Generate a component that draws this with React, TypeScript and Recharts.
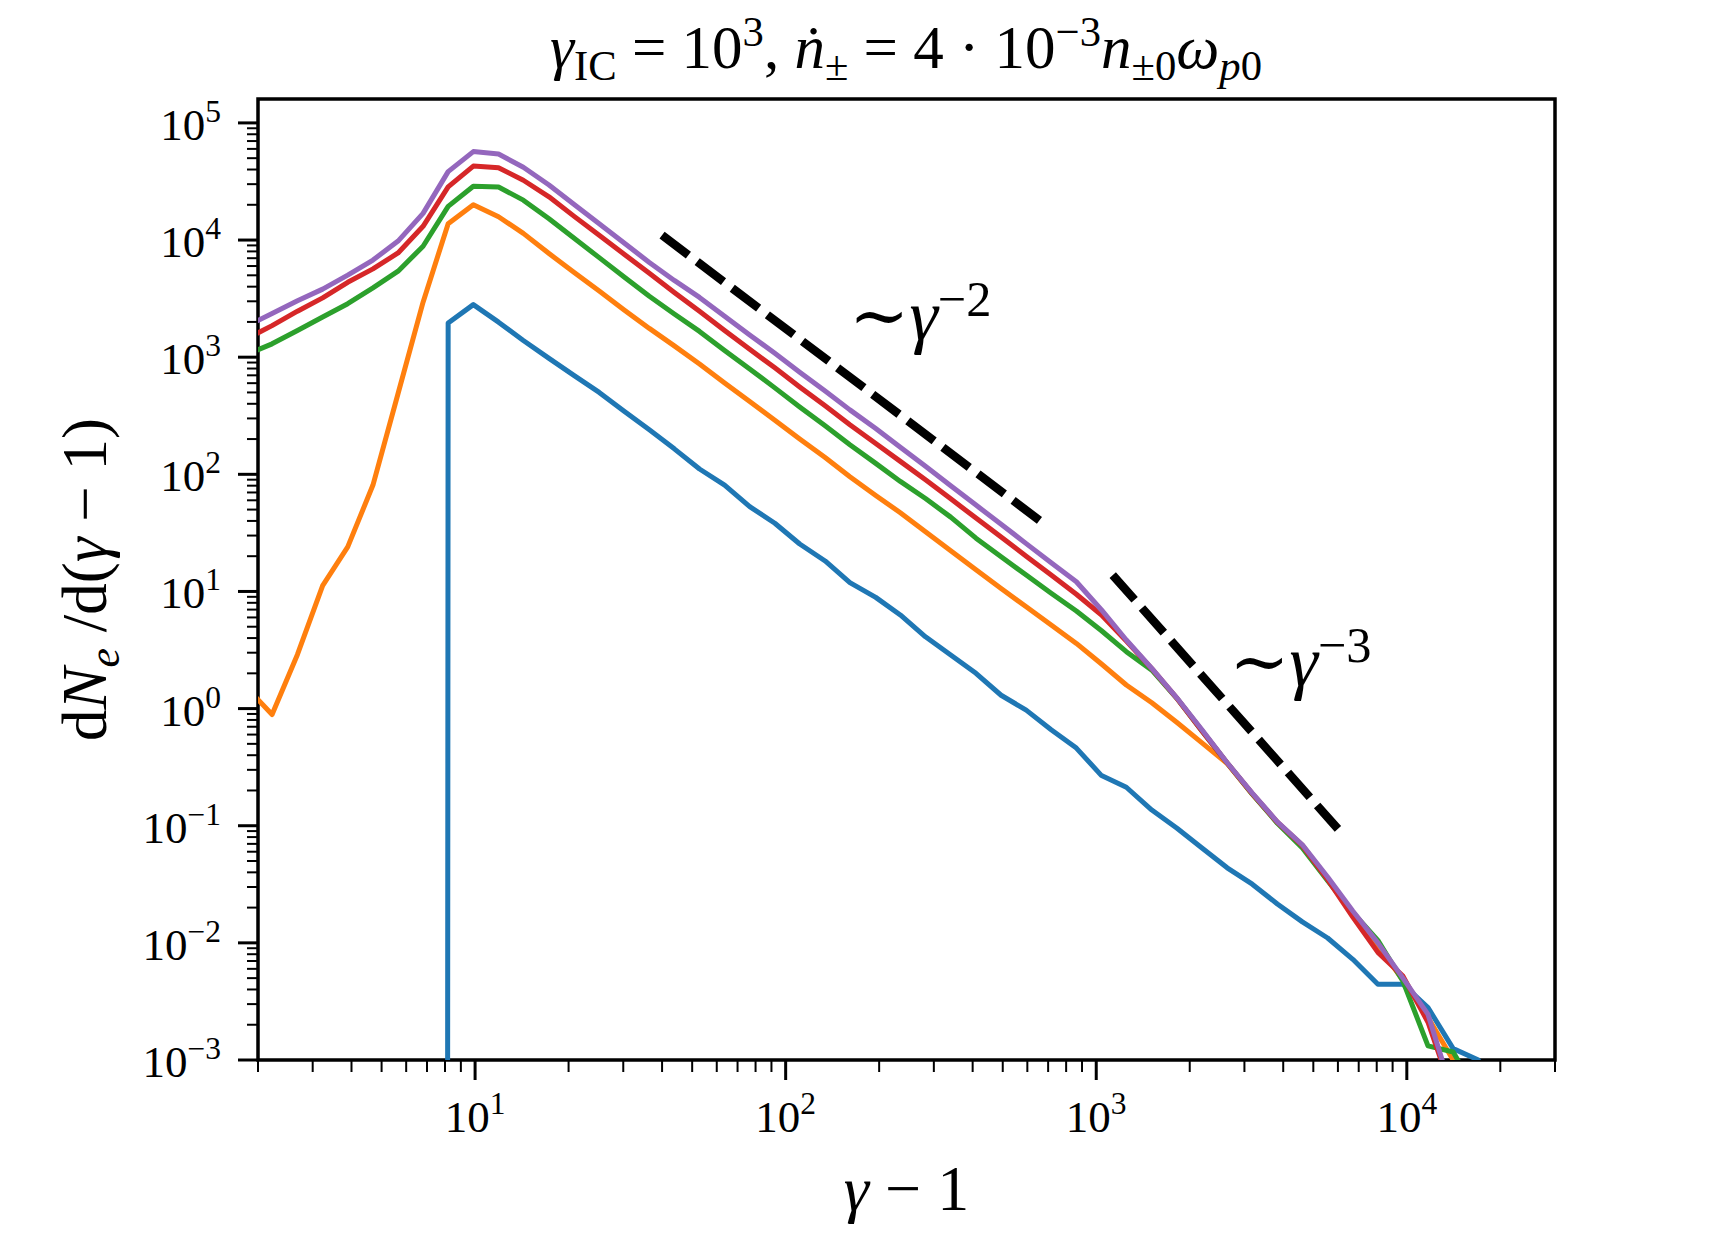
import React from 'react';
import { LineChart, Line, XAxis, YAxis, ReferenceArea, ReferenceDot } from 'recharts';

const FONT = '"Liberation Serif", "DejaVu Serif", serif';

const W = 1728;
const H = 1248;

const X_DOMAIN: [number, number] = [2, 30000];
const Y_DOMAIN: [number, number] = [1e-3, 1.6e5];

// gamma - 1 bin centres (log spaced)
const gammaBins = [
  1.85, 2.22, 2.68, 3.23, 3.89, 4.69, 5.65, 6.8, 8.19, 9.87, 11.9, 14.3, 17.3, 20.8, 25.1, 30.2, 36.4,
  43.8, 52.8, 63.6, 76.6, 92.3, 111, 134, 161, 195, 234, 282, 340, 410, 494, 595, 716, 863, 1040, 1250,
  1510, 1820, 2190, 2640, 3180, 3830, 4610, 5560, 6700, 8070, 9720, 11700, 14100, 17000, 20500,
];

// dN_e/d(gamma-1) for each snapshot, 0 = empty bin
const blueCounts = [
  0, 0, 0, 0, 0, 0, 0, 0, 1960, 2810, 1990, 1390, 977, 700, 500, 345, 240, 165, 111, 81, 53, 38.2, 25.4,
  18.2, 11.9, 8.9, 6.3, 4.1, 2.87, 2.0, 1.3, 0.97, 0.66, 0.46, 0.268, 0.213, 0.136, 0.095, 0.0645, 0.0437,
  0.0317, 0.0215, 0.0151, 0.011, 0.00724, 0.00443, 0.00443, 0.0028, 0.00125, 0.001, 0,
];
const orangeCounts = [
  1.48, 0.89, 2.9, 11.2, 24, 81, 490, 2950, 13800, 20000, 15800, 11400, 7670, 5310, 3680, 2530, 1760,
  1250, 875, 603, 418, 290, 200, 139, 95.5, 66, 47, 32.4, 22.3, 15.3, 10.6, 7.4, 5.17, 3.6, 2.4, 1.59,
  1.12, 0.76, 0.51, 0.34, 0.186, 0.107, 0.068, 0.035, 0.018, 0.0095, 0.0048, 0.0023, 0.001, 0, 0,
];
const greenCounts = [
  1060, 1300, 1690, 2200, 2860, 3900, 5420, 8850, 19400, 28800, 28400, 21900, 15200, 10400, 7080, 4840,
  3310, 2340, 1660, 1140, 793, 547, 376, 260, 179, 124, 87, 62.1, 43.1, 28.5, 19.8, 13.8, 9.66, 6.81,
  4.62, 3.06, 2.13, 1.22, 0.645, 0.343, 0.186, 0.105, 0.0646, 0.0339, 0.0182, 0.0105, 0.0047, 0.00132,
  0.00117, 0.0005, 0,
];
const redCounts = [
  1450, 1860, 2470, 3210, 4360, 5670, 7760, 13100, 28400, 42800, 41400, 32400, 23400, 16000, 11000, 7570,
  5200, 3570, 2470, 1690, 1170, 811, 557, 385, 265, 183, 129, 89.7, 61.8, 42.3, 29.1, 20.0, 13.8, 9.46,
  6.3, 3.78, 2.19, 1.22, 0.645, 0.343, 0.188, 0.107, 0.0676, 0.0347, 0.0166, 0.0083, 0.0052, 0.0021,
  0.0005, 0, 0,
];
const purpleCounts = [
  1860, 2360, 3030, 3810, 5020, 6750, 9800, 16900, 38400, 56900, 54300, 41800, 29500, 20200, 13800, 9420,
  6440, 4520, 3240, 2240, 1550, 1080, 743, 514, 355, 246, 170, 117, 79.8, 54.6, 37.5, 25.6, 17.6, 12.1,
  6.95, 3.85, 2.2, 1.23, 0.66, 0.345, 0.19, 0.108, 0.0687, 0.0365, 0.0187, 0.01, 0.005, 0.00245, 0.0005,
  0, 0,
];

// power-law guides (end points)
const guideSlope2 = [
  { x: 40, y: 11000 },
  { x: 660, y: 40 },
];
const guideSlope3 = [
  { x: 1130, y: 13.8 },
  { x: 6000, y: 0.094 },
];

const xMajorTicks = [10, 100, 1000, 10000];
const yMajorTicks = [1e-3, 1e-2, 1e-1, 1, 10, 100, 1000, 1e4, 1e5];
const minorSteps = [2, 3, 4, 5, 6, 7, 8, 9];

const LOG_FLOOR = 1e-300; // empty bins get clipped like matplotlib does

function toPoints(counts: number[]) {
  return gammaBins.map((x, i) => ({ x, y: counts[i] > 0 ? counts[i] : LOG_FLOOR }));
}

function minorsIn(decades: number[], [lo, hi]: [number, number]) {
  return decades
    .flatMap((d) => minorSteps.map((m) => d * m))
    .filter((v) => v >= lo * 0.999 && v <= hi * 1.001);
}

const xTicks = [...xMajorTicks, ...minorsIn([1, 10, 100, 1000, 10000], X_DOMAIN)];
const yTicks = [...yMajorTicks, ...minorsIn(yMajorTicks, Y_DOMAIN)];

const series = [
  { key: 'blue', color: '#1f77b4', counts: blueCounts },
  { key: 'orange', color: '#ff7f0e', counts: orangeCounts },
  { key: 'green', color: '#2ca02c', counts: greenCounts },
  { key: 'red', color: '#d62728', counts: redCounts },
  { key: 'purple', color: '#9467bd', counts: purpleCounts },
];

function isMajor(v: number) {
  const l = Math.log10(v);
  return Math.abs(l - Math.round(l)) < 1e-6;
}

function expText(v: number) {
  const e = Math.round(Math.log10(v));
  return e < 0 ? `\u2212${-e}` : `${e}`;
}

type Seg = { t: string; k?: 'i' | 'sub' | 'subi' | 'sup' };

function mathTspans(segs: Seg[], size: number, supShift = 0.36, subShift = 0.2) {
  let level = 0;
  return segs.map((s, i) => {
    const small = s.k === 'sub' || s.k === 'subi' || s.k === 'sup';
    const target = s.k === 'sup' ? -supShift * size : s.k === 'sub' || s.k === 'subi' ? subShift * size : 0;
    const dy = target - level;
    level = target;
    return (
      <tspan
        key={i}
        dy={dy}
        fontSize={small ? size * 0.7 : size}
        fontStyle={s.k === 'i' || s.k === 'subi' ? 'italic' : 'normal'}
      >
        {s.t}
      </tspan>
    );
  });
}

const TICK_FONT = 45;

function XTick(props: any) {
  const { x, y, payload } = props;
  const major = isMajor(payload.value);
  return (
    <g>
      <line x1={x} x2={x} y1={y} y2={y + (major ? 20 : 12)} stroke="#000" strokeWidth={major ? 3 : 2} />
      {major && (
        <text x={x} y={y + 72} textAnchor="middle" fontFamily={FONT} fontSize={TICK_FONT} fill="#000">
          {mathTspans([{ t: '10' }, { t: expText(payload.value), k: 'sup' }], TICK_FONT, 0.4)}
        </text>
      )}
    </g>
  );
}

function YTick(props: any) {
  const { x, y, payload } = props;
  const major = isMajor(payload.value);
  return (
    <g>
      <line x1={x - (major ? 20 : 11)} x2={x} y1={y} y2={y} stroke="#000" strokeWidth={major ? 3 : 2} />
      {major && (
        <text x={x - 37} y={y + 17} textAnchor="end" fontFamily={FONT} fontSize={TICK_FONT} fill="#000">
          {mathTspans([{ t: '10' }, { t: expText(payload.value), k: 'sup' }], TICK_FONT, 0.4)}
        </text>
      )}
    </g>
  );
}

function XLabel(props: any) {
  const vb = props.viewBox || { x: 258, y: 1060, width: 1297 };
  return (
    <text x={vb.x + vb.width / 2} y={vb.y + 150} textAnchor="middle" fontFamily={FONT} fontSize={64} fill="#000">
      {mathTspans([{ t: '\u03b3', k: 'i' }, { t: ' \u2212 1' }], 64)}
    </text>
  );
}

function YLabel(props: any) {
  const vb = props.viewBox || { y: 99, height: 961 };
  const cx = 106;
  const cy = vb.y + vb.height / 2;
  return (
    <text
      x={cx}
      y={cy}
      transform={`rotate(-90 ${cx} ${cy})`}
      textAnchor="middle"
      fontFamily={FONT}
      fontSize={63}
      fill="#000"
    >
      {mathTspans(
        [{ t: 'd' }, { t: 'N', k: 'i' }, { t: 'e', k: 'subi' }, { t: ' /d(' }, { t: '\u03b3', k: 'i' }, { t: ' \u2212 1)' }],
        63,
      )}
    </text>
  );
}

function powerLabel(exp: string) {
  return (p: any) => (
    <text x={p.cx} y={p.cy} fontFamily={FONT} fontSize={72} fill="#000">
      {mathTspans([{ t: '\u223c' }, { t: '\u03b3', k: 'i' }, { t: exp, k: 'sup' }], 72, 0.33)}
    </text>
  );
}

const titleSegs: Seg[] = [
  { t: '\u03b3', k: 'i' },
  { t: 'IC', k: 'sub' },
  { t: ' = 10' },
  { t: '3', k: 'sup' },
  { t: ', ' },
  { t: '\u1e45', k: 'i' },
  { t: '\u00b1', k: 'sub' },
  { t: ' = 4 \u00b7 10' },
  { t: '\u22123', k: 'sup' },
  { t: 'n', k: 'i' },
  { t: '\u00b10', k: 'sub' },
  { t: '\u03c9', k: 'i' },
  { t: 'p', k: 'subi' },
  { t: '0', k: 'sub' },
];

export default function App() {
  return (
    <div style={{ position: 'absolute', left: 0, top: 0, width: W, height: H, background: '#fff' }}>
      <svg width={W} height={120} style={{ position: 'absolute', left: 0, top: 0 }}>
        <text x={906} y={68} textAnchor="middle" fontFamily={FONT} fontSize={61} fill="#000">
          {mathTspans(titleSegs, 61, 0.36, 0.2)}
        </text>
      </svg>
      <LineChart width={W} height={H} margin={{ top: 99, right: 173, bottom: 88, left: 0 }}>
        <XAxis
          dataKey="x"
          type="number"
          scale="log"
          domain={X_DOMAIN}
          allowDataOverflow
          ticks={xTicks}
          interval={0}
          tickSize={0}
          tickMargin={0}
          tickLine={false}
          axisLine={false}
          tick={XTick}
          height={100}
          label={{ content: XLabel }}
        />
        <YAxis
          type="number"
          scale="log"
          domain={Y_DOMAIN}
          allowDataOverflow
          ticks={yTicks}
          interval={0}
          tickSize={0}
          tickMargin={0}
          tickLine={false}
          axisLine={false}
          tick={YTick}
          width={258}
          label={{ content: YLabel }}
        />
        {series.map((s) => (
          <Line
            key={s.key}
            data={toPoints(s.counts)}
            dataKey="y"
            type="linear"
            stroke={s.color}
            strokeWidth={5}
            strokeLinejoin="round"
            dot={false}
            activeDot={false}
            isAnimationActive={false}
          />
        ))}
        <Line
          data={guideSlope2}
          dataKey="y"
          type="linear"
          stroke="#000"
          strokeWidth={8.5}
          strokeDasharray="33 11"
          dot={false}
          activeDot={false}
          isAnimationActive={false}
        />
        <Line
          data={guideSlope3}
          dataKey="y"
          type="linear"
          stroke="#000"
          strokeWidth={8.5}
          strokeDasharray="33 11"
          dot={false}
          activeDot={false}
          isAnimationActive={false}
        />
        <ReferenceDot x={160} y={1413} r={1} ifOverflow="visible" shape={powerLabel('\u22122')} />
        <ReferenceDot x={2680} y={1.56} r={1} ifOverflow="visible" shape={powerLabel('\u22123')} />
        <ReferenceArea
          x1={X_DOMAIN[0]}
          x2={X_DOMAIN[1]}
          y1={Y_DOMAIN[0]}
          y2={Y_DOMAIN[1]}
          fill="none"
          stroke="#000"
          strokeWidth={3.5}
          ifOverflow="visible"
        />
      </LineChart>
    </div>
  );
}
